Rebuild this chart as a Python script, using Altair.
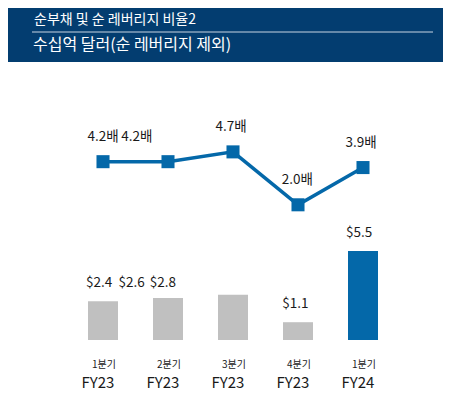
import altair as alt
import pandas as pd

# ---- data ----
periods_q = ["1분기", "2분기", "3분기", "4분기", "1분기"]
periods_fy = ["FY23", "FY23", "FY23", "FY23", "FY24"]
net_debt = [2.4, 2.6, 2.8, 1.1, 5.5]
net_debt_labels = ["$2.4", "$2.6", "$2.8", "$1.1", "$5.5"]
leverage = [4.2, 4.2, 4.7, 2.0, 3.9]
leverage_labels = ["4.2배", "4.2배", "4.7배", "2.0배", "3.9배"]
title_1 = "순부채 및 순 레버리지 비율2"
title_2 = "수십억 달러(순 레버리지 제외)"

# label anchors (in category units) as placed in the source
bar_label_x = [-0.06, 0.44, 0.92, 2.96, 3.94]
bar_label_anchor = [2.4, 2.4, 2.4, 1.1, 5.5]
line_label_x = [0.0, 0.52, 1.97, 2.99, 3.97]

idx = list(range(len(net_debt)))
df = pd.DataFrame({
    "i": idx,
    "q": periods_q,
    "fy": periods_fy,
    "debt": net_debt,
    "debt_lab": net_debt_labels,
    "lev": leverage,
    "lev_lab": leverage_labels,
    "blx": bar_label_x,
    "bly": bar_label_anchor,
    "llx": line_label_x,
    "last": ["no", "no", "no", "no", "yes"],
})

NAVY = "#033d70"
BLUE = "#0468a9"
GREY = "#c0c0c0"
TXT = "#1a1a1a"
FONT = "Noto Sans CJK KR"

xs = alt.Scale(domain=[0, 4], range=[90, 360])
ybar = alt.Scale(domain=[0, 5.5], range=[332, 243])
yline = alt.Scale(domain=[0, 5], range=[236, 138])

one = pd.DataFrame({"t1": [title_1], "t2": [title_2]})

header = alt.Chart(one).mark_rect(color=NAVY).encode(
    x=alt.value(0), x2=alt.value(435), y=alt.value(0), y2=alt.value(54)
)
rule = alt.Chart(one).mark_rule(color="#c9d5e2", strokeWidth=1).encode(
    x=alt.value(24), x2=alt.value(425), y=alt.value(24)
)
t1 = alt.Chart(one).mark_text(
    align="left", baseline="middle", color="white", fontSize=14, font=FONT
).encode(x=alt.value(26), y=alt.value(12), text="t1:N")
t2 = alt.Chart(one).mark_text(
    align="left", baseline="middle", color="white", fontSize=16, font=FONT
).encode(x=alt.value(25), y=alt.value(37), text="t2:N")

base = alt.Chart(df)

bars = base.mark_bar(size=30).encode(
    x=alt.X("i:Q", scale=xs, axis=None),
    y=alt.Y("debt:Q", scale=ybar, axis=None),
    y2=alt.datum(0),
    color=alt.Color("last:N", scale=alt.Scale(domain=["no", "yes"], range=[GREY, BLUE]), legend=None),
)
bar_labels = base.mark_text(
    fontSize=13.5, color=TXT, font=FONT, baseline="middle", dy=-18
).encode(
    x=alt.X("blx:Q", scale=xs, axis=None),
    y=alt.Y("bly:Q", scale=ybar, axis=None),
    text="debt_lab:N",
)

line = base.mark_line(color=BLUE, strokeWidth=3.5).encode(
    x=alt.X("i:Q", scale=xs, axis=None),
    y=alt.Y("lev:Q", scale=yline, axis=None),
)
pts = base.mark_point(shape="square", filled=True, opacity=1, size=170, color=BLUE).encode(
    x=alt.X("i:Q", scale=xs, axis=None),
    y=alt.Y("lev:Q", scale=yline, axis=None),
)
line_labels = base.mark_text(
    fontSize=13.5, color=TXT, font=FONT, baseline="middle", dy=-25
).encode(
    x=alt.X("llx:Q", scale=xs, axis=None),
    y=alt.Y("lev:Q", scale=yline, axis=None),
    text="lev_lab:N",
)

q_labels = base.mark_text(fontSize=10, color=TXT, font=FONT, baseline="middle", dx=1).encode(
    x=alt.X("i:Q", scale=xs, axis=None), y=alt.value(357), text="q:N"
)
fy_labels = base.mark_text(fontSize=15, color=TXT, font=FONT, baseline="middle", dx=-5).encode(
    x=alt.X("i:Q", scale=xs, axis=None), y=alt.value(375), text="fy:N"
)

chart = alt.layer(
    header, rule, t1, t2,
    bars, bar_labels,
    line, pts, line_labels,
    q_labels, fy_labels,
).resolve_scale(y="independent").properties(
    width=435, height=386, padding=0,
    autosize=alt.AutoSizeParams(type="none"),
).configure_view(stroke=None)

chart.save("out.html", embed_options={"renderer": "svg", "actions": False})
